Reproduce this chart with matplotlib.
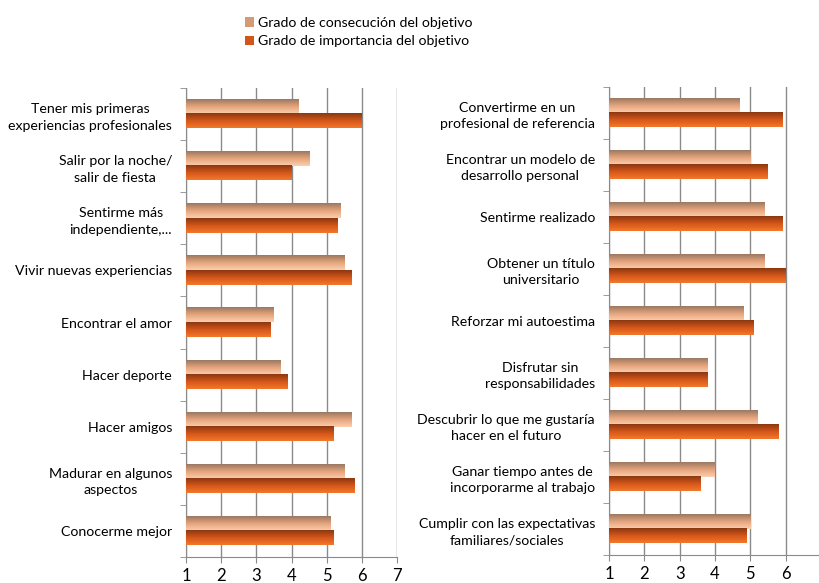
import numpy as np
import matplotlib
matplotlib.use("Agg")
import matplotlib.pyplot as plt
from matplotlib.colors import LinearSegmentedColormap
from matplotlib.patches import Patch

plt.rcParams['font.family'] = ['Lato', 'DejaVu Sans']

# Datos
cat_izq = ["Tener mis primeras\nexperiencias profesionales", "Salir por la noche/\nsalir de fiesta",
           "Sentirme más\nindependiente,...", "Vivir nuevas experiencias", "Encontrar el amor",
           "Hacer deporte", "Hacer amigos", "Madurar en algunos\naspectos", "Conocerme mejor"]
consec_izq = [4.2, 4.5, 5.4, 5.5, 3.5, 3.7, 5.7, 5.5, 5.1]
import_izq = [6.0, 4.0, 5.3, 5.7, 3.4, 3.9, 5.2, 5.8, 5.2]

cat_der = ["Convertirme en un\nprofesional de referencia", "Encontrar un modelo de\ndesarrollo personal",
           "Sentirme realizado", "Obtener un título\nuniversitario", "Reforzar mi autoestima",
           "Disfrutar sin\nresponsabilidades", "Descubrir lo que me gustaría\nhacer en el futuro",
           "Ganar tiempo antes de\nincorporarme al trabajo", "Cumplir con las expectativas\nfamiliares/sociales"]
consec_der = [4.7, 5.0, 5.4, 5.4, 4.8, 3.8, 5.2, 4.0, 5.0]
import_der = [5.9, 5.5, 5.9, 6.0, 5.1, 3.8, 5.8, 3.6, 4.9]

etiquetas = ["Grado de consecución del objetivo", "Grado de importancia del objetivo"]

# Degradados (arriba -> abajo)
cmap_cons = LinearSegmentedColormap.from_list("cons", ["#9a7862", "#e6a47c", "#fbcfae"])
cmap_imp = LinearSegmentedColormap.from_list("imp", ["#8a3812", "#d4561a", "#f3782a"])
grad = np.linspace(0, 1, 64).reshape(-1, 1)

W, H = 819, 583
fig = plt.figure(figsize=(W / 100, H / 100), dpi=100)


def panel(rect, cats, cons, imp, xlabels):
    ax = fig.add_axes(rect)
    n = len(cats)
    y = np.arange(n)
    h = 0.275
    b1 = ax.barh(y - h / 2, np.array(cons) - 1, left=1, height=h, color="none")
    b2 = ax.barh(y + h / 2, np.array(imp) - 1, left=1, height=h, color="none")
    for bars, cm in ((b1, cmap_cons), (b2, cmap_imp)):
        for p in bars:
            x0, y0 = p.get_x(), p.get_y()
            ax.imshow(grad, cmap=cm, aspect="auto", zorder=3,
                      extent=(x0, x0 + p.get_width(), y0 + p.get_height(), y0))
    ax.set_xlim(1, 7)
    ax.set_ylim(n - 0.5, -0.5)
    ax.set_xticks(range(1, 8))
    ax.set_xticklabels(xlabels)
    ax.grid(axis="x", color="#8a8a8a", linewidth=1.0, zorder=0)
    ax.set_axisbelow(True)
    ax.set_yticks(y)
    ax.set_yticklabels(cats, fontsize=10.2, multialignment="center", linespacing=1.45)
    ax.set_yticks(np.arange(-0.5, n, 1), minor=True)
    ax.tick_params(axis="y", which="major", length=0, pad=10)
    ax.tick_params(axis="y", which="minor", length=4, color="#8a8a8a", direction="out")
    ax.tick_params(axis="x", length=4, color="#8a8a8a", labelsize=12, pad=4)
    for s in ("top", "right"):
        ax.spines[s].set_visible(False)
    for s in ("left", "bottom"):
        ax.spines[s].set_color("#8a8a8a")
    return ax


panel([186 / W, 1 - 557 / H, 211 / W, 469 / H], cat_izq, consec_izq, import_izq,
      ["1", "2", "3", "4", "5", "6", "7"])
panel([609 / W, 1 - 555 / H, 212 / W, 468 / H], cat_der, consec_der, import_der,
      ["1", "2", "3", "4", "5", "6", ""])

handles = [Patch(facecolor="#d49a78"), Patch(facecolor="#d2561a")]
fig.legend(handles, etiquetas, loc="upper left", bbox_to_anchor=(238 / W, 1 - 10 / H),
           frameon=False, fontsize=10.2, handlelength=0.6, handleheight=0.7,
           handletextpad=0.3, labelspacing=0.45, borderpad=0)

fig.savefig("out.png", dpi=100)
